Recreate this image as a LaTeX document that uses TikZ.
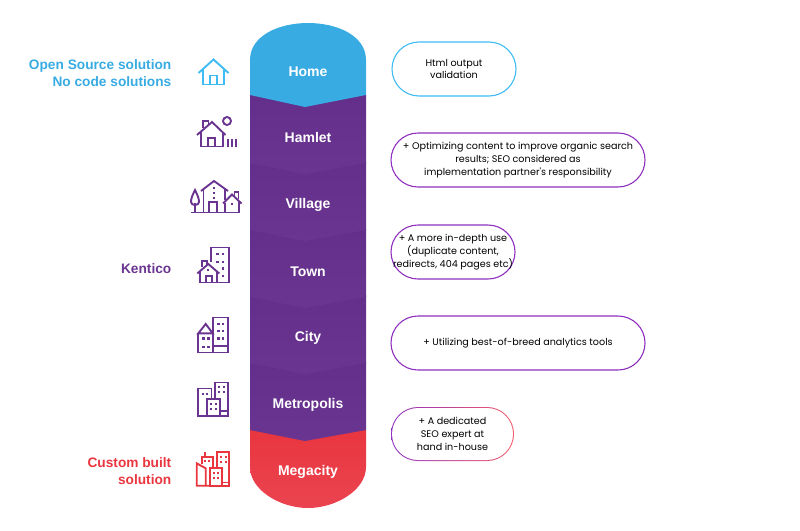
\documentclass[tikz,border=0pt]{standalone}
\usepackage{fontspec}
\setmainfont{Liberation Sans}
\newfontfamily\boxfont{Poppins}
\usetikzlibrary{positioning}
\definecolor{seoblue}{HTML}{38ABE3}
\definecolor{seopurple}{HTML}{6A3590}
\definecolor{seodark}{HTML}{632F8A}
\definecolor{seored}{HTML}{E9363F}
\definecolor{seoredlight}{HTML}{EA4450}
\definecolor{lineblue}{HTML}{3DBBF2}
\definecolor{linepurple}{HTML}{8E2FBE}
\definecolor{linered}{HTML}{F65A68}
\tikzset{
	seglabel/.style={text=white,yshift=-0.8pt,font=\fontsize{14}{16}\selectfont\bfseries},
	sidelabel/.style={anchor=east,align=right,inner sep=0pt,yshift=-0.8pt,font=\fontsize{13.7}{17}\selectfont\bfseries},
	seobox/.style={draw,line width=1.1pt,rounded corners=27pt,minimum height=54pt,
		inner sep=0pt,align=center,text=black,font=\boxfont\fontsize{9.6}{12.7}\selectfont},
	iconline/.style={line width=1.9pt,fill=none,line join=miter}
}
\begin{document}
\begin{tikzpicture}[x=1pt,y=-1pt]
	\useasboundingbox (0,0) rectangle (800,530);

	% column, drawn upwards so every tip lies over the next part
	\shade[top color=seored,bottom color=seoredlight]
		(250,430) -- (250,467) .. controls (250,490) and (280,508) .. (308,508)
		.. controls (336,508) and (366,490) .. (366,467) -- (366,430) -- cycle;
	\foreach \segtop in {362,295,229,162,95}{
		\shade[top color=seodark,middle color=seopurple,bottom color=seopurple]
			(250,\segtop) -- (250,\segtop+68) -- (305,\segtop+79) -- (366,\segtop+68) -- (366,\segtop) -- cycle;
	}
	\fill[seoblue] (250,95) -- (250,60) .. controls (250,35) and (280,23) .. (308,23)
		.. controls (336,23) and (366,35) .. (366,60) -- (366,95) -- (305,107) -- cycle;

	\node[seglabel] (home) at (308,70.5) {Home};
	\node[seglabel] (hamlet) at (308,137) {Hamlet};
	\node[seglabel] (village) at (308,204) {Village};
	\node[seglabel] (town) at (308,270.5) {Town};
	\node[seglabel] (city) at (308,337.5) {City};
	\node[seglabel] (metropolis) at (308,404.5) {Metropolis};
	\node[seglabel] (megacity) at (308,471.5) {Megacity};

	% left labels
	\node[sidelabel,text=seoblue] (opensource) at (171.5,72.5) {Open Source solution\\No code solutions};
	\node[sidelabel,text=seopurple] (kentico) at (171.5,268) {Kentico};
	\node[sidelabel,text=seored] (custom) at (171.5,470.5) {Custom built\\solution};

	% right boxes
	\node[seobox,draw=lineblue,minimum width=124pt] (box1) at (454,69) {Html output\\validation};
	\node[seobox,draw=linepurple,minimum width=254pt] (box2) at (518,160) {+ Optimizing content to improve organic search\\results; SEO considered as\\implementation partner's responsibility};
	\node[seobox,draw=linepurple,minimum width=124pt] (box3) at (453,252) {+ A more in-depth use\\(duplicate content,\\redirects, 404 pages etc)};
	\node[seobox,draw=linepurple,minimum width=254pt] (box4) at (518,343) {\raisebox{-1.5pt}{+ Utilizing best-of-breed analytics tools}};
	\node[rounded corners=27pt,minimum height=54pt,minimum width=123pt,inner sep=0pt,
		left color=linepurple,middle color=linepurple!55!linered,right color=linered] (box5back) at (452.5,434) {};
	\node[seobox,draw=none,fill=white,rounded corners=26pt,minimum height=52pt,minimum width=121pt] (box5) at (box5back) {+ A dedicated\\SEO expert at\\hand in-house};

	% home
	\begin{scope}[iconline,draw=lineblue]
		\draw (198.5,73) -- (213.5,59.5) -- (228.5,73);
		\draw (203,69.5) -- (203,84.5) -- (224,84.5) -- (224,69.5);
		\draw (210,84.5) -- (210,75.5) -- (217,75.5) -- (217,84.5);
	\end{scope}

	% hamlet
	\begin{scope}[iconline,draw=seopurple]
		\draw (197,135) -- (212,122) -- (225.5,135);
		\draw (203,128) -- (203,121) -- (208.5,121) -- (208.5,125);
		\draw (201,132) -- (201,146.5) -- (223,146.5) -- (223,132);
		\draw (208,146.5) -- (208,138) -- (215,138) -- (215,146.5);
		\draw (227,121) circle (4);
		\foreach \barx in {227.7,231.7,235.7}{
			\draw (\barx,139) -- (\barx,147);
		}
	\end{scope}

	% village
	\begin{scope}[iconline,draw=seopurple]
		\draw (191,212.5) -- (240,212.5);
		\draw (195,212.5) -- (195,203);
		\draw (195,190) .. controls (192,196) and (191,199) .. (191,202) .. controls (191,206) and (199,206) .. (199,202) .. controls (199,199) and (198,196) .. (195,190) -- cycle;
		\draw (201,191) -- (214,181) -- (228,191);
		\draw (203.5,190) -- (203.5,212.5);
		\draw (225,189) -- (225,200);
		\draw (209,212.5) -- (209,202) -- (217,202) -- (217,212.5);
		\draw (223,203.5) -- (232,194.5) -- (241.5,203.5);
		\draw (234.5,196) -- (234.5,192) -- (238.5,192) -- (238.5,199);
		\draw (225,203) -- (225,212.5);
		\draw (239,201) -- (239,212.5);
		\foreach \wx/\wy in {213.5/188,213.5/193,213.5/198,232/204}{
			\fill[seopurple] (\wx-1,\wy-1) rectangle +(2,2);
		}
	\end{scope}

	% town
	\begin{scope}[iconline,draw=seopurple]
		\draw (211,262) -- (211,247.5) -- (228.7,247.5) -- (228.7,282.5) -- (216.7,282.5);
		\draw (197.3,273.5) -- (208.3,264) -- (219.3,273.5);
		\draw (202,266.5) -- (202,261) -- (206.7,261) -- (206.7,265);
		\draw (200,271) -- (200,282.5) -- (216.7,282.5) -- (216.7,271);
		\draw (205.7,282.5) -- (205.7,276) -- (211.7,276) -- (211.7,282.5);
		\foreach \wx/\wy in {217.3/254,222.7/254,217.3/261.7,222.7/261.7,222.7/268.3,222.7/276}{
			\fill[seopurple] (\wx-1.2,\wy-1.2) rectangle +(2.4,2.4);
		}
		\fill[seopurple] (207.4,269) rectangle +(2,2);
	\end{scope}

	% city
	\begin{scope}[iconline,draw=seopurple]
		\draw (212.7,352.5) -- (212.7,317.5) -- (228,317.5) -- (228,352.5);
		\draw (198.3,333.3) -- (205.7,324) -- (212.7,333.3) -- cycle;
		\draw (198.3,333.3) -- (198.3,352.5) -- (228,352.5);
		\draw (212.7,345.7) -- (228,345.7);
		\foreach \wx/\wy in {203.3/338.3,208.3/338.3,203.3/347,208.3/347,218.3/324,222.7/324,218.3/331,222.7/331,218.3/338.3,222.7/338.3}{
			\fill[seopurple] (\wx-1.2,\wy-1.2) rectangle +(2.4,2.4);
		}
	\end{scope}

	% metropolis
	\begin{scope}[iconline,draw=seopurple]
		\draw (215,399) -- (215,382.5) -- (228,382.5) -- (228,416) -- (220,416);
		\draw (207.3,388.5) -- (198.3,388.5) -- (198.3,416) -- (220,416);
		\draw (198.3,388.5) -- (211.5,388.5) -- (211.5,399);
		\draw (207.3,416) -- (207.3,399) -- (220,399) -- (220,416);
		\draw (220,411) -- (228,411);
		\foreach \wx/\wy in {219.3/386.7,224/386.7,219.3/391.7,224/391.7,202.7/394.3,206.7/394.3,211/404.3,215.7/404.3,211/409.3,215.7/409.3}{
			\fill[seopurple] (\wx-1.1,\wy-1.1) rectangle +(2.2,2.2);
		}
	\end{scope}

	% megacity
	\begin{scope}[iconline,draw=seored]
		\draw (216.7,468.3) -- (216.7,451.7) -- (229.3,451.7) -- (229.3,485.7) -- (221.7,485.7);
		\draw (221.7,482.5) -- (229.3,482.5);
		\draw (210,485.7) -- (210,468.3) -- (221.7,468.3) -- (221.7,485.7) -- cycle;
		\draw (201.7,464) -- (201.7,456.7) -- (213.3,456.7) -- (213.3,468.3);
		\draw (205,456.7) -- (205,452.3);
		\draw (205.7,485.7) -- (205.7,468.3) -- (196.7,463.3) -- (196.7,485.7) -- (210,485.7);
		\foreach \wx/\wy in {221/456.7,225.7/456.7,221/461.7,225.7/461.7,205/461,209/461,214/473.3,218.3/473.3,214/478.3,218.3/478.3}{
			\fill[seored] (\wx-1.1,\wy-1.1) rectangle +(2.2,2.2);
		}
	\end{scope}
\end{tikzpicture}
\end{document}
